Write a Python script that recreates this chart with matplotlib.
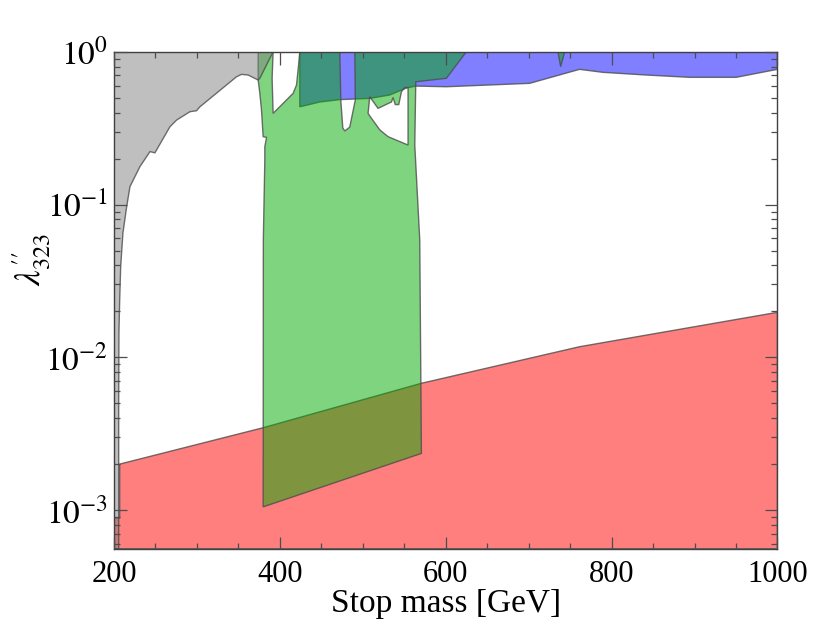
import matplotlib
matplotlib.use("Agg")
import matplotlib.pyplot as plt
from matplotlib.path import Path
from matplotlib.patches import PathPatch
from matplotlib.ticker import LogLocator, MultipleLocator, NullFormatter, FixedLocator
import numpy as np

plt.rcParams['mathtext.fontset'] = 'stix'
plt.rcParams['font.family'] = ['Liberation Serif', 'DejaVu Serif']

YMIN, YMAX = 5.59e-4, 1.0

# ---- data (stop mass [GeV], lambda''_323) ----
gray_x = [200, 205.7, 205.7, 206.0, 206.9, 208.1, 210.8, 215.3, 219.3, 231.3, 243.4,
          249.4, 267.5, 275.5, 291.6, 299.6, 303.6, 347.8, 353.8, 361.8, 373.9, 375.9,
          391.9, 200]
gray_y = [YMIN, YMIN, 0.00526, 0.0144, 0.0237, 0.0392, 0.0651, 0.0967, 0.131, 0.177, 0.222,
          0.218, 0.323, 0.357, 0.405, 0.411, 0.436, 0.686, 0.711, 0.704, 0.653, 0.670,
          1.0, 1.0]

red_x = [200, 200, 206.9, 206.9, 379.9, 570.7, 761.4, 1000, 1000]
red_y = [YMIN, 8.87e-4, 8.87e-4, 2.0e-3, 3.46e-3, 6.76e-3, 1.173e-2, 1.97e-2, YMIN]

blue_x = [424.1, 424.1, 448.2, 472.3, 508.4, 532.5, 552.6, 563.9, 600.8, 701.2, 761.4,
          789.5, 841.8, 894.0, 950.2, 1000, 1000]
blue_y = [1.0, 0.436, 0.469, 0.486, 0.495, 0.521, 0.579, 0.596, 0.590, 0.621, 0.767,
          0.733, 0.704, 0.680, 0.680, 0.767, 1.0]

green_x = [379.9, 380.1, 381.9, 381.9, 384.0, 379.9, 377.9, 375.9, 373.9, 373.9,
           391.9, 390.7, 391.9, 402.0, 416.0, 420.1, 422.0, 424.1,
           472.3, 473.5, 475.9, 478.3, 484.3, 491.0, 490.4,
           624.9, 600.8, 563.9, 562.7, 568.7, 570.7]
green_y = [1.05e-3, 0.0586, 0.1955, 0.239, 0.275, 0.278, 0.415, 0.534, 0.653, 1.0,
           1.0, 0.670, 0.395, 0.448, 0.534, 0.605, 0.759, 1.0,
           1.0, 0.483, 0.317, 0.303, 0.321, 0.483, 1.0,
           1.0, 0.670, 0.636, 0.245, 0.0586, 2.35e-3]

hole_x = [508.4, 518.4, 534.6, 536.5, 539.2, 543.4, 546.6, 550.6, 554.6, 554.6,
          530.5, 520.5, 508.4, 506.4]
hole_y = [0.508, 0.426, 0.469, 0.502, 0.451, 0.451, 0.547, 0.583, 0.583, 0.245,
          0.278, 0.308, 0.380, 0.395]

spike_x = [735.3, 738.6, 743.4]
spike_y = [1.0, 0.798, 1.0]

x_ticks = [200, 400, 600, 800, 1000]
y_ticks = [1e-3, 1e-2, 1e-1, 1e0]
y_ticklabels = [r'$10^{-3}$', r'$10^{-2}$', r'$10^{-1}$', r'$10^{0}$']

EDGE = (0.3, 0.3, 0.3)


def closed(xs, ys):
    v = list(zip(xs, ys))
    return v + [v[0]]


def add_poly(ax, rings, fc, alpha, z):
    verts, codes = [], []
    for ring in rings:
        verts += ring
        codes += [Path.MOVETO] + [Path.LINETO] * (len(ring) - 2) + [Path.CLOSEPOLY]
    p = Path(verts, codes)
    ax.add_patch(PathPatch(p, facecolor=fc, alpha=alpha, edgecolor='none', zorder=z))
    ax.add_patch(PathPatch(p, facecolor='none', edgecolor=EDGE, lw=1.0, alpha=0.8, zorder=z + 0.5))


fig = plt.figure(figsize=(8.30, 6.41), dpi=100)
ax = fig.add_axes([0.1373, 0.1440, 0.7994, 0.7753])
ax.set_yscale('log')
ax.set_xlim(200, 1000)
ax.set_ylim(YMIN, YMAX)

add_poly(ax, [closed(red_x, red_y)], (1, 0, 0), 0.5, 1)
add_poly(ax, [closed(blue_x, blue_y)], (0, 0, 1), 0.5, 2)
outer = closed(green_x, green_y)
hole = closed(hole_x[::-1], hole_y[::-1])
add_poly(ax, [outer, hole], (0, 0.667, 0), 0.5, 3)
add_poly(ax, [closed(spike_x, spike_y)], (0, 0.667, 0), 0.5, 3)
add_poly(ax, [closed(gray_x, gray_y)], (0.5, 0.5, 0.5), 0.5, 4)

# axes styling
for s in ax.spines.values():
    s.set_color((0.25, 0.25, 0.25))
    s.set_linewidth(1.0)
    s.set_zorder(10)
ax.xaxis.set_zorder(20)
ax.yaxis.set_zorder(20)

ax.xaxis.set_major_locator(FixedLocator(x_ticks))
ax.xaxis.set_minor_locator(MultipleLocator(50))
ax.yaxis.set_minor_locator(LogLocator(base=10, subs=np.arange(2, 10), numticks=20))
ax.yaxis.set_minor_formatter(NullFormatter())
ax.set_yticks(y_ticks)
ax.set_yticklabels(y_ticklabels)

ax.tick_params(which='both', direction='in', top=True, right=True,
               color=(0.3, 0.3, 0.3), width=0.9)
ax.tick_params(which='major', length=9)
ax.tick_params(which='minor', length=4.5)
ax.tick_params(axis='x', which='major', labelsize=22, pad=8)
ax.tick_params(axis='y', which='major', labelsize=24, pad=4)

ax.set_xlabel('Stop mass [GeV]', fontsize=24, labelpad=0)
fig.text(0.038, 0.595, r"$\lambda^{\prime\prime}_{323}$", fontsize=25, rotation=90,
         ha='center', va='center')

fig.savefig('out.png', dpi=100)
